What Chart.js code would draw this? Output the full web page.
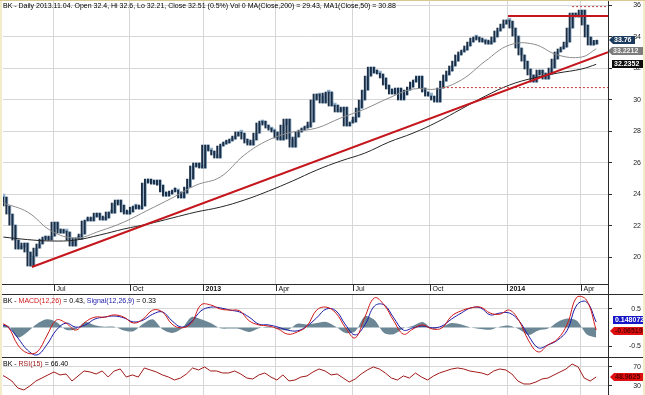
<!DOCTYPE html>
<html>
<head>
<meta charset="utf-8">
<script src="https://cdn.jsdelivr.net/npm/chart.js@4.4.1/dist/chart.umd.min.js"></script>
<style>
  html, body { margin: 0; padding: 0; background: #fff; }
  #wrap { position: relative; width: 645px; height: 395px; overflow: hidden; background: #fff;
          font-family: 'Liberation Sans', Arial, sans-serif; }
  canvas { position: absolute; left: 0; display: block; }
  .title { position: absolute; left: 3px; font-size: 7px; line-height: 8px; color: #000; white-space: nowrap; z-index: 2; }
  .rule { position: absolute; background: #2b2b2b; z-index: 3; }
  .edge { position: absolute; background: #f3ecc9; z-index: 4; }
</style>
</head>
<body>
<div id="wrap">
  <canvas id="price" width="645" height="294" style="top:0;width:645px;height:294px"></canvas>
  <canvas id="macd" width="645" height="62" style="top:295px;width:645px;height:62px"></canvas>
  <canvas id="rsi" width="645" height="37" style="top:358px;width:645px;height:37px"></canvas>

  <div class="title" style="top:2px">BK - Daily 2013.11.04. Open 32.4, Hi 32.6, Lo 32.21, Close 32.51 (0.5%) Vol 0 MA(Close,200) = 29.43, MA1(Close,50) = 30.88</div>
  <div class="title" style="top:297px">BK - <span style="color:#d01818">MACD(12,26)</span> = 0.43, <span style="color:#1a1aa8">Signal(12,26,9)</span> = 0.33</div>
  <div class="title" style="top:360px">BK - <span style="color:#a01818">RSI(15)</span> = 66.40</div>

  <div class="rule" style="left:0;top:284px;width:608px;height:1px"></div>
  <div class="rule" style="left:0;top:294px;width:645px;height:1px"></div>
  <div class="rule" style="left:0;top:357px;width:645px;height:1px"></div>
  <div class="rule" style="left:608px;top:0;width:1px;height:395px"></div>
  <div class="edge" style="left:0;top:0;width:2px;height:395px"></div>
  <div class="edge" style="left:643px;top:0;width:2px;height:395px"></div>
  <div class="edge" style="left:0;top:0;width:645px;height:1px;background:#d9c98f"></div>
</div>

<script>
// x axis unit: trading days counted from the first session of July 2012
const quarterDays = [0, 63, 124, 184, 248, 312, 376, 437];
const quarterLabels = ['Jul', 'Oct', '2013', 'Apr', 'Jul', 'Oct', '2014', 'Apr'];
const firstDay = -42.3, lastDay = 459.8;

// daily closes, one every 2.5 sessions
const priceStart = -42, priceStep = 2.5;
const closes = [
  23.81, 23.24, 22.73, 22.03, 21.08, 20.51, 20.63, 20.89, 20.32, 19.43,
  20.06, 20.57, 20.83, 21.14, 21.27, 21.08, 21.33, 22.22, 21.78, 21.52,
  21.65, 21.59, 21.08, 20.70, 21.21, 21.14, 21.46, 22.29, 22.35, 22.29,
  22.54, 22.79, 22.54, 22.35, 22.48, 22.86, 22.79, 23.43, 23.62, 23.30,
  22.86, 22.73, 22.86, 23.17, 23.24, 23.05, 23.24, 24.70, 24.95, 24.76,
  24.63, 24.89, 24.57, 24.13, 23.87, 24.00, 24.19, 24.25, 24.13, 23.75,
  24.06, 24.44, 24.95, 25.78, 25.97, 25.71, 25.65, 27.11, 26.79, 26.73,
  26.48, 26.29, 27.05, 27.17, 27.24, 27.37, 27.49, 27.68, 27.94, 27.87,
  27.49, 27.24, 27.11, 27.43, 27.87, 28.51, 28.63, 28.38, 28.19, 28.06,
  27.94, 27.56, 27.43, 28.38, 28.76, 27.49, 26.98, 27.62, 27.94, 28.06,
  28.19, 28.25, 28.57, 29.97, 30.35, 30.22, 29.78, 30.41, 30.48, 29.59,
  29.65, 29.21, 29.33, 29.52, 28.32, 28.51, 28.57, 28.89, 29.46, 29.97,
  30.60, 31.49, 32.06, 31.68, 31.68, 31.62, 31.37, 30.92, 30.67, 30.35,
  30.48, 30.73, 29.97, 30.29, 30.60, 30.79, 31.11, 31.24, 31.49, 30.73,
  30.48, 30.22, 30.22, 29.97, 29.84, 30.73, 31.17, 31.56, 31.81, 32.13,
  32.44, 32.83, 33.02, 33.14, 33.40, 33.65, 33.90, 33.97, 33.78, 33.65,
  33.71, 33.52, 33.65, 33.97, 34.35, 34.54, 34.79, 35.05, 34.98, 34.54,
  34.03, 33.27, 32.83, 32.44, 31.94, 31.56, 31.11, 31.56, 31.87, 31.68,
  31.30, 31.62, 32.00, 32.57, 33.02, 33.21, 33.33, 33.65, 34.54, 35.49,
  35.30, 35.24, 35.68, 34.73, 33.97, 33.46, 33.52, 33.76
];

// moving averages, read every 20 sessions
const maDays = [-42, -22, -2, 18, 38, 58, 78, 98, 118, 138, 158, 178, 198,
                218, 238, 258, 278, 298, 318, 338, 358, 378, 398, 418, 438, 450];
const ma50 = [23.43, 22.86, 21.65, 21.21, 21.65, 22.22, 22.98, 23.75, 24.57, 25.08, 26.48, 27.43, 27.94,
              28.19, 28.83, 29.40, 30.10, 30.67, 30.67, 31.24, 32.44, 33.46, 33.52, 32.83, 32.70, 33.2212];
const ma200 = [21.27, 21.11, 21.02, 21.08, 21.40, 21.78, 22.10, 22.48, 22.86, 23.17, 23.62, 24.19, 24.83,
               25.52, 26.10, 26.60, 27.30, 27.87, 28.57, 29.40, 30.22, 30.92, 31.37, 31.68, 31.94, 32.2352];

// drawn lines (days, prices)
const trendDays = [-18.3, 459.8], trendPrices = [19.37, 33.0];
const topDays = [376.8, 459.8], topPrice = 35.3;
const highDotDays = [430, 459.8], highDotPrice = 35.9;
const lowDotDays = [322.8, 459.8], lowDotPrice = 30.76;
const priceTicks = [20, 22, 24, 26, 28, 30, 32, 34, 36];

// MACD panel, every 8 sessions
const oscStart = -46, oscStep = 8;
const macd = [
  0.15, 0.01, -0.47, -0.69, -0.66, -0.23, 0.20, 0.12, -0.07, 0.15,
  0.28, 0.28, 0.34, 0.28, 0.12, 0.23, 0.47, 0.42, 0.09, -0.01,
  0.12, 0.61, 0.61, 0.50, 0.47, 0.45, 0.18, 0.07, 0.04, -0.04,
  -0.18, -0.12, 0.04, 0.47, 0.55, 0.39, -0.01, -0.28, 0.28, 0.80,
  0.61, 0.18, -0.18, -0.04, 0.07, -0.04, -0.01, 0.31, 0.45, 0.53,
  0.55, 0.39, 0.36, 0.47, 0.18, -0.36, -0.66, -0.47, -0.31, 0.09,
  0.82, 0.74, -0.065191
];
const signal = [
  0.09, 0.01, -0.28, -0.61, -0.74, -0.47, -0.07, 0.12, 0.01, 0.07,
  0.23, 0.28, 0.31, 0.26, 0.15, 0.20, 0.36, 0.42, 0.18, 0.01,
  0.15, 0.45, 0.55, 0.53, 0.47, 0.42, 0.28, 0.09, 0.07, 0.01,
  -0.07, -0.09, 0.04, 0.26, 0.50, 0.45, 0.07, -0.20, 0.07, 0.58,
  0.61, 0.26, -0.07, -0.01, 0.04, -0.01, 0.04, 0.23, 0.39, 0.53,
  0.53, 0.34, 0.39, 0.39, 0.18, -0.23, -0.55, -0.47, -0.34, -0.07,
  0.61, 0.69, 0.148072
];
const histogram = [
  0.05, 0.05, -0.27, -0.12, 0.10, 0.22, 0.15, -0.06, -0.05, 0.15,
  0.06, 0.02, 0.02, -0.08, -0.10, 0.10, 0.22, -0.05, -0.15, -0.03,
  0.28, 0.22, 0.12, -0.02, -0.03, -0.04, -0.12, -0.02, 0.03, -0.04,
  -0.07, 0.10, 0.08, 0.12, 0.15, 0.02, -0.15, -0.10, 0.30, 0.20,
  -0.15, -0.18, -0.02, 0.05, 0.15, -0.03, 0.02, 0.12, 0.08, 0.00,
  -0.04, -0.06, 0.02, 0.05, -0.05, -0.20, -0.08, -0.03, 0.15, 0.24,
  0.18, -0.18, -0.27
];
const macdTicks = [-0.5, 0.5];

// RSI panel, every 5 sessions
const rsiStart = -45, rsiStep = 5;
const rsi = [
  55.3, 48.9, 40.5, 25.8, 21.6, 30.0, 40.5, 46.8, 53.2, 59.5,
  53.2, 55.3, 40.5, 51.1, 61.6, 59.5, 55.3, 61.6, 48.9, 61.6,
  65.8, 48.9, 53.2, 48.9, 67.9, 63.7, 59.5, 53.2, 48.9, 42.6,
  46.8, 55.3, 67.9, 63.7, 70.0, 61.6, 61.6, 57.4, 57.4, 61.6,
  55.3, 46.8, 44.7, 53.2, 57.4, 48.9, 42.6, 53.2, 40.5, 42.6,
  48.9, 51.1, 59.5, 65.8, 61.6, 53.2, 55.3, 46.8, 38.4, 44.7,
  55.3, 63.7, 70.0, 65.8, 57.4, 46.8, 42.6, 51.1, 46.8, 57.4,
  48.9, 42.6, 51.1, 57.4, 61.6, 65.8, 67.9, 65.8, 61.6, 59.5,
  57.4, 53.2, 61.6, 65.8, 63.7, 55.3, 40.5, 34.2, 34.2, 38.4,
  44.7, 46.8, 53.2, 59.5, 65.8, 76.3, 70.0, 46.8, 40.5, 48.9625
];
const rsiTicks = [30, 70];

const FONT = 'Liberation Sans';
const GRID = '#d6d6d6';

function series(start, step, values) {
  return values.map((v, i) => ({ x: start + step * i, y: v }));
}
function segment(days, values) {
  return days.map((d, i) => ({ x: d, y: Array.isArray(values) ? values[i] : values }));
}

function xAxis(height) {
  return {
    type: 'linear', min: firstDay, max: lastDay, offset: false,
    afterBuildTicks: (a) => { a.ticks = quarterDays.map(v => ({ value: v })); },
    afterFit: (a) => { a.height = height; },
    ticks: { display: false },
    grid: { color: GRID, drawTicks: false, offset: false },
    border: { display: false }
  };
}
function yAxis(min, max, ticks) {
  return {
    position: 'right', min: min, max: max,
    afterBuildTicks: (a) => { a.ticks = ticks.map(v => ({ value: v })); },
    afterFit: (a) => { a.width = 37; },
    ticks: { display: false },
    grid: { color: GRID, tickColor: '#2b2b2b', tickLength: 4 },
    border: { display: false }
  };
}

// right-hand tick labels, right aligned like the reference
const rightLabels = {
  id: 'rightLabels',
  afterDraw(chart) {
    const { ctx, scales: { y } } = chart;
    ctx.save();
    ctx.font = '7px ' + FONT;
    ctx.fillStyle = '#222';
    ctx.textAlign = 'right';
    ctx.textBaseline = 'middle';
    y.ticks.forEach(t => {
      ctx.fillText(String(t.value), 641, Math.round(y.getPixelForValue(t.value)) + 0.5);
    });
    ctx.restore();
  }
};

// value tags on the right margin
function tags(list) {
  return {
    id: 'tags',
    afterDraw(chart) {
      const ctx = chart.ctx, y = chart.scales.y, right = chart.chartArea.right;
      ctx.save();
      ctx.font = 'bold 7px ' + FONT;
      ctx.textBaseline = 'middle';
      list.forEach(t => {
        const py = Math.round(y.getPixelForValue(t.value)) + (t.shift || 0);
        const x0 = right + t.dx, x1 = right + t.dx + t.w;
        ctx.fillStyle = t.bg;
        ctx.beginPath();
        if (t.arrow) {
          ctx.moveTo(x0, py);
          ctx.lineTo(x0 + 4, py - 4);
        } else {
          ctx.moveTo(x0, py - 4);
        }
        ctx.lineTo(x1, py - 4);
        ctx.lineTo(x1, py + 4);
        ctx.lineTo(t.arrow ? x0 + 4 : x0, py + 4);
        ctx.closePath();
        ctx.fill();
        ctx.fillStyle = t.fg;
        ctx.fillText(t.text, x0 + (t.arrow ? 5 : 2), py + 0.5);
      });
      ctx.restore();
    }
  };
}

const quarterAxis = {
  id: 'quarterAxis',
  afterDraw(chart) {
    const { ctx, chartArea: a, scales: { x } } = chart;
    ctx.save();
    ctx.strokeStyle = '#2b2b2b';
    ctx.fillStyle = '#111';
    ctx.textBaseline = 'top';
    quarterDays.forEach((d, i) => {
      const px = Math.round(x.getPixelForValue(d)) + 0.5;
      ctx.beginPath();
      ctx.moveTo(px, a.bottom);
      ctx.lineTo(px, a.bottom + 7);
      ctx.stroke();
      ctx.font = (/^\d{4}$/.test(quarterLabels[i]) ? 'bold ' : '') + '7px ' + FONT;
      ctx.fillText(quarterLabels[i], px + 2, a.bottom + 2);
    });
    ctx.restore();
  }
};

const common = {
  responsive: false, maintainAspectRatio: false, animation: false, devicePixelRatio: 1,
  events: [],
  layout: { padding: { left: 3, top: 0, right: 0, bottom: 0 } },
  plugins: { legend: { display: false }, tooltip: { enabled: false } }
};

const line = (data, color, width, order, extra) => Object.assign({
  type: 'line', data: data, borderColor: color, borderWidth: width,
  pointRadius: 0, fill: false, tension: 0, order: order
}, extra || {});

// candle pieces: body from previous close to close, wick over neighbouring closes
const bodies = closes.map((c, i) => ({ x: priceStart + priceStep * i, y: [i ? closes[i - 1] : c, c] }));
const wicks = closes.map((c, i) => {
  const near = closes.slice(Math.max(0, i - 1), i + 2);
  return { x: priceStart + priceStep * i, y: [Math.min(...near), Math.max(...near)] };
});

// price pane
new Chart(document.getElementById('price'), {
  type: 'bar',
  data: {
    datasets: [
      { type: 'bar', data: bodies, backgroundColor: '#8fafca', borderWidth: 0,
        barThickness: 3, minBarLength: 3, grouped: false, order: 6 },
      { type: 'bar', data: wicks, backgroundColor: '#1a2d44', borderWidth: 0,
        barThickness: 1.3, minBarLength: 4, grouped: false, order: 5 },
      line(segment(maDays, ma50), '#8c8c8c', 1, 3, { tension: 0.4 }),
      line(segment(maDays, ma200), '#262626', 1, 3, { tension: 0.4 }),
      line(segment(trendDays, trendPrices), '#c4161c', 2, 1),
      line(segment(topDays, topPrice), '#c4161c', 2, 1),
      line(segment(highDotDays, highDotPrice), '#c43a3a', 1, 1, { borderDash: [2, 2] }),
      line(segment(lowDotDays, lowDotPrice), '#c43a3a', 1, 1, { borderDash: [2, 2] })
    ]
  },
  options: Object.assign({}, common, {
    scales: { x: xAxis(10), y: yAxis(18.29, 36.32, priceTicks) }
  }),
  plugins: [quarterAxis, rightLabels, tags([
    { value: ma200.at(-1), text: String(ma200.at(-1)), bg: '#0d0d0d', fg: '#fff', dx: 4, w: 40, arrow: false },
    { value: ma50.at(-1), text: String(ma50.at(-1)), bg: '#7d7d7d', fg: '#f2f2f2', dx: 0, w: 40, arrow: true, shift: 2 },
    { value: closes.at(-1), text: closes.at(-1).toFixed(2), bg: '#1c3a5e', fg: '#fff', dx: 1, w: 26, arrow: true }
  ])]
});

// MACD pane
new Chart(document.getElementById('macd'), {
  type: 'line',
  data: {
    datasets: [
      line(series(oscStart, oscStep, histogram), 'rgba(0,0,0,0)', 0, 5,
           { fill: 'origin', backgroundColor: '#6b8795', tension: 0.3 }),
      line(series(oscStart, oscStep, signal), '#1a1aa8', 1, 2, { tension: 0.4 }),
      line(series(oscStart, oscStep, macd), '#d01818', 1, 1, { tension: 0.4 })
    ]
  },
  options: Object.assign({}, common, {
    scales: { x: xAxis(0), y: yAxis(-0.797, 0.878, macdTicks) }
  }),
  plugins: [rightLabels, tags([
    { value: signal.at(-1), text: String(signal.at(-1)), bg: '#1616c8', fg: '#fff', dx: 5, w: 40, arrow: false, shift: -2 },
    { value: macd.at(-1), text: String(macd.at(-1)), bg: '#e01010', fg: '#5a0000', dx: 2, w: 40, arrow: true, shift: 1 }
  ])]
});

// RSI pane
new Chart(document.getElementById('rsi'), {
  type: 'line',
  data: {
    datasets: [line(series(rsiStart, rsiStep, rsi), '#a01818', 1, 1)]
  },
  options: Object.assign({}, common, {
    scales: { x: xAxis(0), y: yAxis(11.05, 88.9, rsiTicks) }
  }),
  plugins: [rightLabels, tags([
    { value: rsi.at(-1), text: String(rsi.at(-1)), bg: '#e01010', fg: '#5a0000', dx: 2, w: 40, arrow: true }
  ])]
});
</script>
</body>
</html>
